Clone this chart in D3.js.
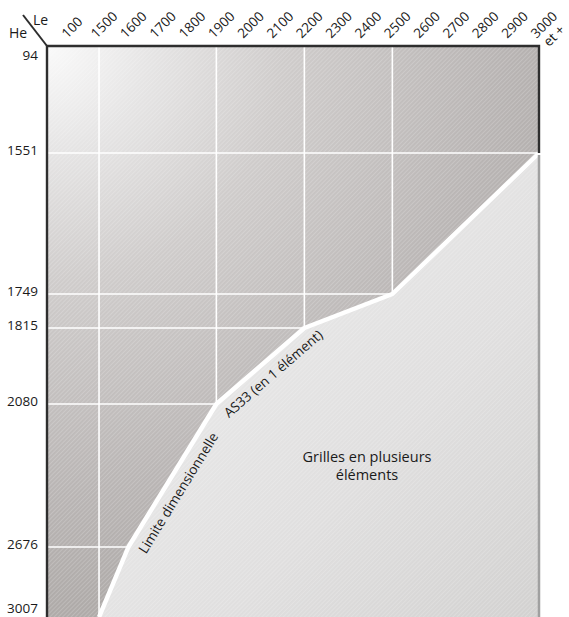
<!DOCTYPE html>
<html><head><meta charset="utf-8">
<script src="https://cdn.jsdelivr.net/npm/d3@7"></script>
<style>html,body{margin:0;padding:0;background:#fff;} svg{display:block;}</style>
</head><body>
<script>
// ---- data ----
const colLabels = ["100","1500","1600","1700","1800","1900","2000","2100","2200","2300","2400","2500","2600","2700","2800","2900","3000"];
const rowValues = [94,1551,1749,1815,2080,2676,3007];
const limitLe = [1500,1600,1900,2200,2500,3000];
const limitHe = [3007,2676,2080,1815,1749,1551];
const gridLe = [1500,1900,2200,2500];
const gridHe = [1551,1749,1815,2080,2676];
const lastColSuffix = "et +";
const regionLabel = ["Grilles en plusieurs","éléments"];
const limitLabels = ["Limite dimensionnelle","AS33 (en 1 élément)"];
const headerRow = "He", headerCol = "Le";

(function(){
// ---- layout ----
const W=569,H=617;
const FONT = "'Open Sans', 'Noto Sans', sans-serif";
const svg = d3.select("body").append("svg").attr("width",W).attr("height",H);
const x = d3.scalePoint().domain(colLabels).range([69.7,539]);
const y = d3.scaleLinear().domain(rowValues).range([46,153,294,328,404,547,617]);
const pL=47, pT=y(rowValues[0]), pR=x(colLabels[colLabels.length-1]), pB=y(rowValues[rowValues.length-1]);

const pts = limitLe.map((le,i)=>[x(String(le)), y(limitHe[i])]);

const defs = svg.append("defs");
const rg = defs.append("radialGradient").attr("id","darkG").attr("gradientUnits","userSpaceOnUse")
  .attr("cx",pL).attr("cy",pT).attr("r",560);
[[0,"#fafafa"],[0.18,"#e6e5e5"],[0.42,"#cfcccb"],[0.8,"#b9b5b4"],[1,"#afaba9"]].forEach(s=>rg.append("stop").attr("offset",s[0]).attr("stop-color",s[1]));
const lg = defs.append("linearGradient").attr("id","lightG").attr("gradientUnits","userSpaceOnUse")
  .attr("x1",200).attr("y1",300).attr("x2",540).attr("y2",617);
[[0,"#e9e9e9"],[0.5,"#e0dfdf"],[1,"#d2d1d0"]].forEach(s=>lg.append("stop").attr("offset",s[0]).attr("stop-color",s[1]));
const pat = defs.append("pattern").attr("id","hatch").attr("patternUnits","userSpaceOnUse")
  .attr("width",3).attr("height",3).attr("patternTransform","rotate(45)");
pat.append("rect").attr("width",1).attr("height",3).attr("fill","#fff").attr("opacity",0.18);

const darkPoly = [[pL,pT],[pR,pT]].concat(pts.slice().reverse()).concat([[pL,pB]]);
const lightPoly = pts.concat([[pR,pB]]);
defs.append("clipPath").attr("id","darkClip").append("polygon").attr("points",darkPoly.map(p=>p.join(",")).join(" "));

svg.append("polygon").attr("points",darkPoly.map(p=>p.join(",")).join(" ")).attr("fill","url(#darkG)");
svg.append("polygon").attr("points",lightPoly.map(p=>p.join(",")).join(" ")).attr("fill","url(#lightG)");
svg.append("rect").attr("x",pL).attr("y",pT).attr("width",pR-pL).attr("height",pB-pT).attr("fill","url(#hatch)");

// grid
const g = svg.append("g").attr("clip-path","url(#darkClip)");
g.selectAll("line.v").data(gridLe).join("line")
  .attr("x1",d=>x(String(d))).attr("x2",d=>x(String(d))).attr("y1",pT).attr("y2",pB)
  .attr("stroke","#fff").attr("stroke-width",1.6);
g.selectAll("line.h").data(gridHe).join("line")
  .attr("x1",pL).attr("x2",pR).attr("y1",d=>y(d)).attr("y2",d=>y(d))
  .attr("stroke","#fff").attr("stroke-width",1.6);

// limit line
svg.append("path").attr("d",d3.line()(pts)).attr("fill","none").attr("stroke","#fff")
  .attr("stroke-width",4.5).attr("stroke-linejoin","round");

// borders
svg.append("line").attr("x1",pR).attr("x2",pR).attr("y1",pts[pts.length-1][1]+2).attr("y2",pB)
  .attr("stroke","#a0a0a0").attr("stroke-width",2.5);
svg.append("path").attr("d",d3.line()([[pL,pB],[pL,pT],[pR,pT],[pR,pts[pts.length-1][1]]]))
  .attr("fill","none").attr("stroke","#2e2e2e").attr("stroke-width",2.4).attr("stroke-linejoin","miter");
svg.append("line").attr("x1",23).attr("y1",15).attr("x2",pL).attr("y2",pT)
  .attr("stroke","#2e2e2e").attr("stroke-width",2);

// header
svg.append("text").attr("x",9).attr("y",38).text(headerRow).attr("font-family",FONT).attr("font-size",14).attr("fill","#1a1a1a");
svg.append("text").attr("x",33).attr("y",25).text(headerCol).attr("font-family",FONT).attr("font-size",14).attr("fill","#1a1a1a");

// column labels
const ct = svg.selectAll("text.col").data(colLabels).join("text")
  .attr("transform",d=>`translate(${x(d)-2.5},39) rotate(-45)`)
  .attr("font-family",FONT).attr("font-size",13.5).attr("fill","#1a1a1a");
ct.append("tspan").text(d=>d);
ct.filter((d,i)=>i===colLabels.length-1).append("tspan").attr("x",3).attr("dy","1.1em").text(lastColSuffix);

// row labels
const nRows = rowValues.length;
svg.selectAll("text.row").data(rowValues).join("text")
  .attr("x",38).attr("y",(d,i)=> i===0 ? y(d)+14 : (i===nRows-1 ? y(d)-4.5 : y(d)+2))
  .attr("text-anchor","end").attr("font-family",FONT).attr("font-size",13.5).attr("fill","#1a1a1a")
  .text(d=>d);

// labels along the limit line
function segLabel(i, frac, off, txt){
  const [x0,y0]=pts[i],[x1,y1]=pts[i+1];
  const len=Math.hypot(x1-x0,y1-y0), ux=(x1-x0)/len, uy=(y1-y0)/len;
  const nx=-uy, ny=ux;
  const cx=x0+ux*len*frac+nx*off, cy=y0+uy*len*frac+ny*off;
  const ang=Math.atan2(uy,ux)*180/Math.PI;
  svg.append("text").attr("transform",`translate(${cx},${cy}) rotate(${ang})`)
    .attr("text-anchor","middle").attr("dominant-baseline","central")
    .attr("font-family",FONT).attr("font-size",13.5).attr("fill","#1a1a1a").text(txt);
}
segLabel(1,0.43,14,limitLabels[0]);
segLabel(2,0.54,14,limitLabels[1]);

// region label
const rt = svg.append("text").attr("x",367).attr("y",462).attr("text-anchor","middle")
  .attr("font-family",FONT).attr("font-size",14.5).attr("fill","#1a1a1a");
rt.append("tspan").attr("x",367).text(regionLabel[0]);
rt.append("tspan").attr("x",367).attr("dy",18).text(regionLabel[1]);
})();
</script>
</body></html>
